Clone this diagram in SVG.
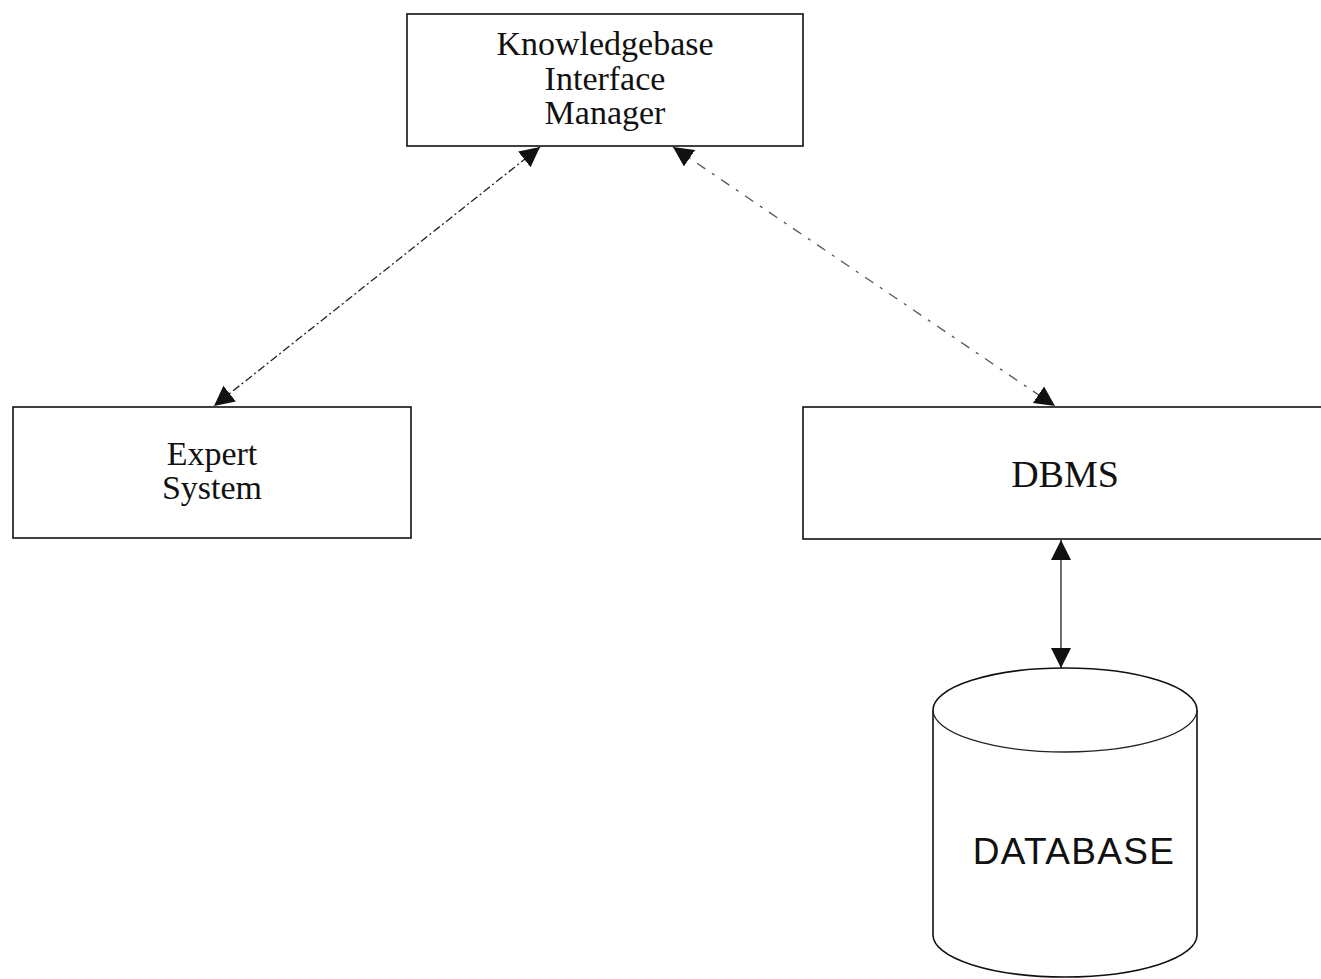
<svg xmlns="http://www.w3.org/2000/svg" width="1321" height="979" viewBox="0 0 1321 979">
  <style>
    .box { fill: #ffffff; stroke: #111111; stroke-width: 1.6; }
    .lbl { font-family: "Liberation Serif", "Times New Roman", serif; font-size: 34px; fill: #111111; text-anchor: middle; }
    .big { font-size: 38px; }
    .sans { font-family: "Liberation Sans", Arial, sans-serif; font-size: 37px; letter-spacing: 1.3px; }
    .link { fill: none; stroke: #222222; stroke-width: 1.3; }
    .dashdot { stroke-dasharray: 8 3 2 3; }
    .sparse { stroke: #555555; stroke-dasharray: 10 8 3 8; }
  </style>
  <defs>
    <marker id="arrow" viewBox="0 0 10 10" refX="10" refY="5" markerWidth="20" markerHeight="20" markerUnits="userSpaceOnUse" orient="auto-start-reverse">
      <path d="M0,0 L10,5 L0,10 z" fill="#111111"/>
    </marker>
  </defs>

  <rect width="1321" height="979" fill="#ffffff"/>

  <g id="connectors">
    <line class="link dashdot" x1="540" y1="147" x2="214" y2="406" marker-start="url(#arrow)" marker-end="url(#arrow)"/>
    <line class="link sparse" x1="673" y1="147" x2="1055" y2="406" marker-start="url(#arrow)" marker-end="url(#arrow)"/>
    <line class="link" x1="1061" y1="540" x2="1061" y2="668" marker-start="url(#arrow)" marker-end="url(#arrow)"/>
  </g>

  <g id="kim">
    <rect class="box" x="407" y="14" width="396" height="132"/>
    <text class="lbl" x="605" y="55">Knowledgebase</text>
    <text class="lbl" x="605" y="90">Interface</text>
    <text class="lbl" x="605" y="124">Manager</text>
  </g>

  <g id="expert-system">
    <rect class="box" x="13" y="407" width="398" height="131"/>
    <text class="lbl" x="212" y="465">Expert</text>
    <text class="lbl" x="212" y="499">System</text>
  </g>

  <g id="dbms">
    <rect class="box" x="803" y="407" width="530" height="132"/>
    <text class="lbl big" x="1065" y="487">DBMS</text>
  </g>

  <g id="database">
    <path class="box" d="M933,710 L933,935 A132,42 0 0 0 1197,935 L1197,710 A132,42 0 0 0 933,710 Z"/>
    <path class="link" d="M933,710 A132,42 0 0 0 1197,710" stroke-width="1.6" stroke="#111111"/>
    <text class="lbl sans" x="1074" y="864">DATABASE</text>
  </g>
</svg>
